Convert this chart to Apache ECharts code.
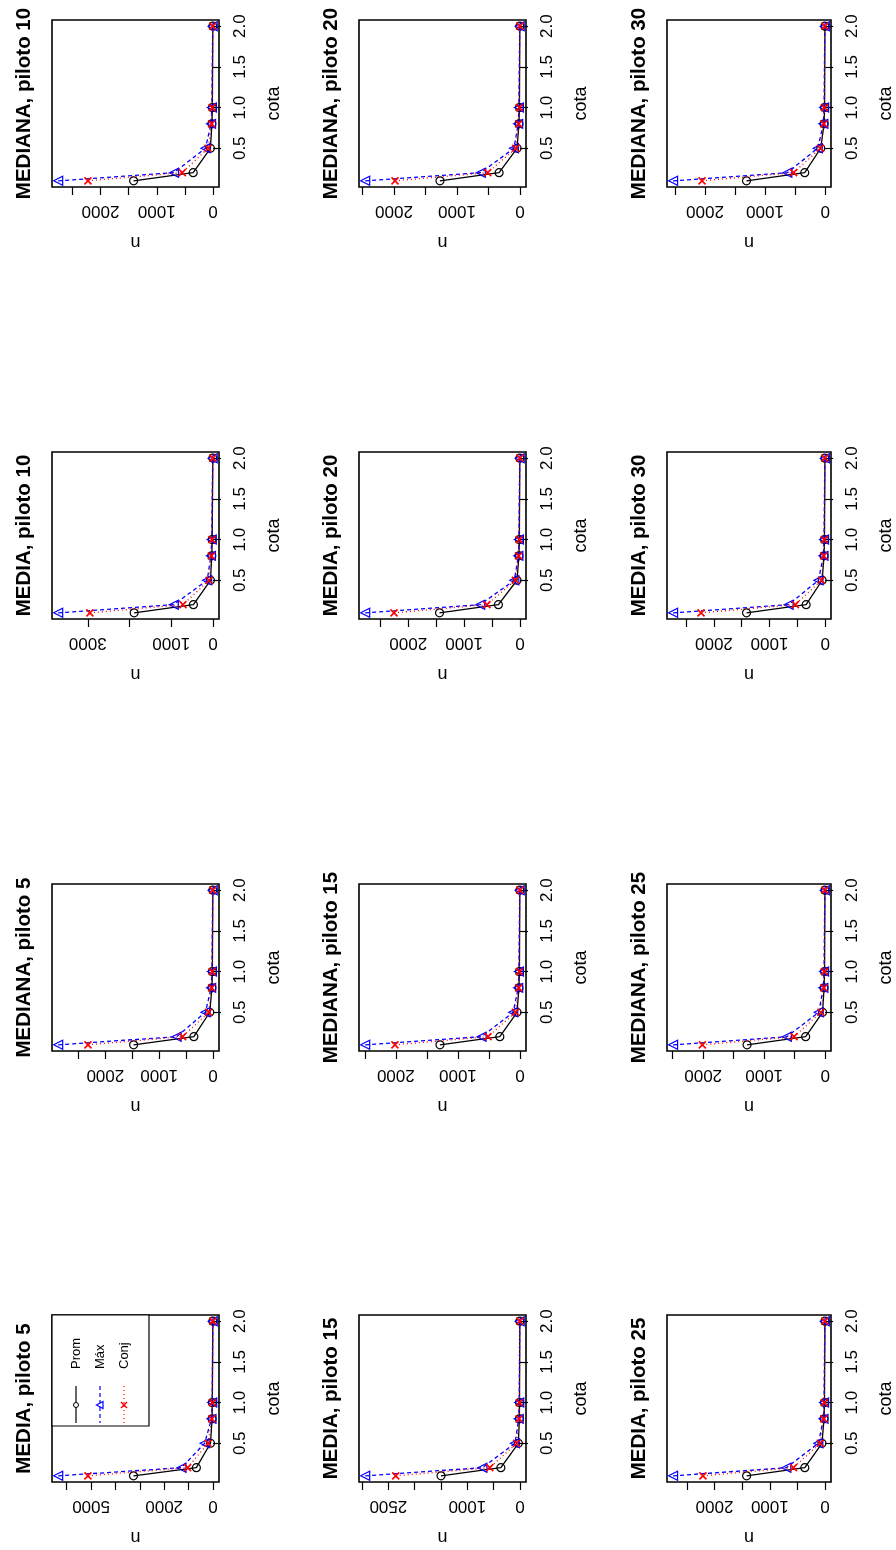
<!DOCTYPE html>
<html><head><meta charset="utf-8">
<script src="https://cdn.jsdelivr.net/npm/echarts@6/dist/echarts.min.js"></script>
<style>html,body{margin:0;padding:0;background:#fff}#c{width:896px;height:1550px}</style>
</head><body><div id="c"></div>
<script>
// ---- data ----
const cota = [0.1, 0.2, 0.5, 0.8, 1.0, 2.0];
const pilotos = [5, 10, 15, 20, 25, 30];
const seriesNames = ['Prom', 'Máx', 'Conj'];

// MEDIA, indexed by piloto (5,10,15,20,25,30); values follow cota
const mediaProm = [
  [3260, 680, 100, 35, 25, 5],
  [1890, 470, 62, 30, 20, 5],
  [1500, 364, 32, 12, 10, 4],
  [1440, 387, 54, 20, 12, 4],
  [1420, 368, 58, 20, 12, 4],
  [1414, 342, 54, 20, 12, 4]
];
const mediaMax = [
  [6350, 1290, 340, 60, 30, 8],
  [3710, 940, 140, 50, 30, 8],
  [2940, 715, 96, 25, 15, 6],
  [2770, 713, 102, 30, 20, 6],
  [2750, 702, 123, 30, 20, 6],
  [2735, 657, 121, 30, 20, 6]
];
const mediaConj = [
  [5130, 1040, 200, 45, 25, 6],
  [2950, 720, 94, 40, 25, 6],
  [2360, 574, 64, 18, 12, 5],
  [2255, 591, 82, 25, 15, 5],
  [2210, 573, 88, 25, 15, 5],
  [2232, 536, 67, 25, 15, 5]
];
// MEDIANA
const medianaProm = [
  [1475, 356, 61, 20, 12, 4],
  [1412, 353, 47, 20, 12, 4],
  [1290, 326, 49, 18, 10, 4],
  [1271, 333, 48, 18, 10, 4],
  [1281, 320, 43, 18, 10, 4],
  [1309, 340, 74, 18, 10, 4]
];
const medianaMax = [
  [2876, 676, 141, 35, 20, 6],
  [2753, 694, 135, 35, 20, 6],
  [2494, 620, 110, 30, 18, 6],
  [2458, 623, 97, 30, 18, 6],
  [2494, 628, 105, 30, 18, 6],
  [2531, 630, 123, 30, 18, 6]
];
const medianaConj = [
  [2323, 565, 80, 25, 15, 5],
  [2224, 547, 88, 25, 15, 5],
  [2015, 516, 74, 22, 12, 5],
  [1985, 514, 67, 22, 12, 5],
  [2014, 511, 68, 22, 12, 5],
  [2049, 525, 80, 22, 12, 5]
];

// tick marks and printed tick labels on the n axis
const mediaTicks = [
  [0, 1000, 2000, 3000, 4000, 5000, 6000],
  [0, 1000, 2000, 3000],
  [0, 500, 1000, 1500, 2000, 2500, 3000],
  [0, 500, 1000, 1500, 2000, 2500],
  [0, 500, 1000, 1500, 2000, 2500],
  [0, 500, 1000, 1500, 2000, 2500]
];
const mediaLabels = [
  [0, 2000, 5000],
  [0, 1000, 3000],
  [0, 1000, 2500],
  [0, 1000, 2000],
  [0, 1000, 2000],
  [0, 1000, 2000]
];
const medianaTicks = [
  [0, 500, 1000, 1500, 2000, 2500],
  [0, 500, 1000, 1500, 2000, 2500],
  [0, 500, 1000, 1500, 2000, 2500],
  [0, 500, 1000, 1500, 2000, 2500],
  [0, 500, 1000, 1500, 2000, 2500],
  [0, 500, 1000, 1500, 2000, 2500]
];
const medianaLabels = [
  [0, 1000, 2000],
  [0, 1000, 2000],
  [0, 1000, 2000],
  [0, 1000, 2000],
  [0, 1000, 2000],
  [0, 1000, 2000]
];
const cotaTicks = [0.5, 1.0, 1.5, 2.0];

// ---- layout / style ----
const FONT = '"Liberation Sans", Arial, Helvetica, sans-serif';
const colLeft = [52, 359, 667];
const rowTop = [20, 452, 884, 1315];
const boxW = 167, boxH = 167;
const colors = ['#000000', '#0000ff', '#ff0000'];
const XPATH = 'path://M0,0L10,10M10,0L0,10';

const statData = {
  MEDIA: [mediaProm, mediaMax, mediaConj, mediaTicks, mediaLabels],
  MEDIANA: [medianaProm, medianaMax, medianaConj, medianaTicks, medianaLabels]
};

const grids = [], xAxes = [], yAxes = [], series = [], graphics = [];
let gi = 0;
['MEDIA', 'MEDIANA'].forEach(stat => {
  const [P, M, C, T, L] = statData[stat];
  pilotos.forEach((p, pi) => {
    const row = (stat === 'MEDIANA' ? 0 : 1) + (p % 10 === 0 ? 0 : 2);
    const col = p % 10 === 0 ? p / 10 - 1 : (p - 5) / 10;
    const left = colLeft[col], top = rowTop[row];
    grids.push({left, top, width: boxW, height: boxH, show: true,
      borderColor: '#000', borderWidth: 1.6, backgroundColor: 'rgba(0,0,0,0)'});
    const arrs = [P[pi], M[pi], C[pi]];
    const all = [].concat(...arrs);
    const lo = Math.min(...all), hi = Math.max(...all), r = hi - lo;
    const cLo = Math.min(...cota), cHi = Math.max(...cota), cr = cHi - cLo;
    xAxes.push({
      gridIndex: gi, type: 'value', position: 'bottom', inverse: true,
      min: lo - 0.04 * r, max: hi + 0.04 * r,
      splitLine: {show: false}, axisLine: {show: false},
      axisTick: {show: true, length: 8, lineStyle: {color: '#000', width: 1.2}, customValues: T[pi]},
      axisLabel: {customValues: L[pi], rotate: 180, fontSize: 17, color: '#000', margin: 15,
        fontFamily: FONT, formatter: v => String(Math.round(v))},
      name: 'n', nameLocation: 'middle', nameGap: 46, nameRotate: 180,
      nameTextStyle: {fontSize: 18, color: '#000', fontFamily: FONT}
    });
    yAxes.push({
      gridIndex: gi, type: 'value', position: 'right',
      min: cLo - 0.04 * cr, max: cHi + 0.04 * cr,
      splitLine: {show: false}, axisLine: {show: false},
      axisTick: {show: true, length: 8, lineStyle: {color: '#000', width: 1.2}, customValues: cotaTicks},
      axisLabel: {customValues: cotaTicks, rotate: 90, fontSize: 17, color: '#000', margin: 13,
        fontFamily: FONT, formatter: v => Number(v).toFixed(1)},
      name: 'cota', nameLocation: 'middle', nameGap: 46, nameRotate: 90,
      nameTextStyle: {fontSize: 18, color: '#000', fontFamily: FONT}
    });
    const syms = [
      {symbol: 'circle', symbolSize: 8, symbolRotate: 0},
      {symbol: 'triangle', symbolSize: 9, symbolRotate: 90},
      {symbol: XPATH, symbolSize: 7, symbolRotate: 0}
    ];
    const lineTypes = ['solid', [4, 3], [1, 3]];
    arrs.forEach((vals, si) => {
      series.push({
        type: 'line', name: seriesNames[si], xAxisIndex: gi, yAxisIndex: gi,
        data: vals.map((v, k) => [v, cota[k]]),
        symbol: syms[si].symbol, symbolSize: syms[si].symbolSize, symbolRotate: syms[si].symbolRotate,
        showSymbol: true, z: 2 + si,
        lineStyle: {color: colors[si], width: 1.3, type: lineTypes[si]},
        itemStyle: {color: 'rgba(0,0,0,0)', borderColor: colors[si], borderWidth: si === 2 ? 1.6 : 1.2},
        emphasis: {disabled: true}
      });
    });
    graphics.push({
      type: 'text', x: left - 28, y: top + boxH / 2, rotation: Math.PI / 2,
      style: {text: stat + ', piloto ' + p, font: 'bold 20.5px ' + FONT, fill: '#000',
        textAlign: 'center', textVerticalAlign: 'middle'}
    });
    gi++;
  });
});

// legend (inside MEDIA, piloto 5 panel)
(function () {
  const left = colLeft[0], top = rowTop[3];
  graphics.push({type: 'rect', shape: {x: left, y: top, width: 97, height: 111},
    style: {fill: '#fff', stroke: '#000', lineWidth: 1.2}, z: 10});
  const xs = [left + 24, left + 48, left + 72];
  const lineDash = [null, [4, 3], [1, 3]];
  seriesNames.forEach((nm, i) => {
    const x = xs[i];
    graphics.push({type: 'line', shape: {x1: x, y1: top + 71, x2: x, y2: top + 108},
      style: {stroke: colors[i], lineWidth: 1.2, lineDash: lineDash[i]}, z: 11});
    const cy = top + 90;
    if (i === 0) {
      graphics.push({type: 'circle', shape: {cx: x, cy, r: 2.5},
        style: {fill: '#fff', stroke: '#000', lineWidth: 1}, z: 12});
    } else if (i === 1) {
      graphics.push({type: 'polygon', shape: {points: [[x - 3.5, cy], [x + 3, cy - 3.5], [x + 3, cy + 3.5]]},
        style: {fill: '#fff', stroke: '#0000ff', lineWidth: 1.2}, z: 12});
    } else {
      graphics.push({type: 'polyline', shape: {points: [[x - 3, cy - 3], [x + 3, cy + 3]]},
        style: {stroke: '#ff0000', lineWidth: 1.4}, z: 12});
      graphics.push({type: 'polyline', shape: {points: [[x + 3, cy - 3], [x - 3, cy + 3]]},
        style: {stroke: '#ff0000', lineWidth: 1.4}, z: 12});
    }
    graphics.push({type: 'text', x: x, y: top + 54, rotation: Math.PI / 2,
      style: {text: nm, font: '13px ' + FONT, fill: '#000', textAlign: 'left', textVerticalAlign: 'middle'}, z: 12});
  });
})();

const chart = echarts.init(document.getElementById('c'), null, {renderer: 'canvas'});
chart.setOption({
  animation: false,
  backgroundColor: '#fff',
  grid: grids, xAxis: xAxes, yAxis: yAxes, series: series,
  graphic: {elements: graphics}
});
</script></body></html>
